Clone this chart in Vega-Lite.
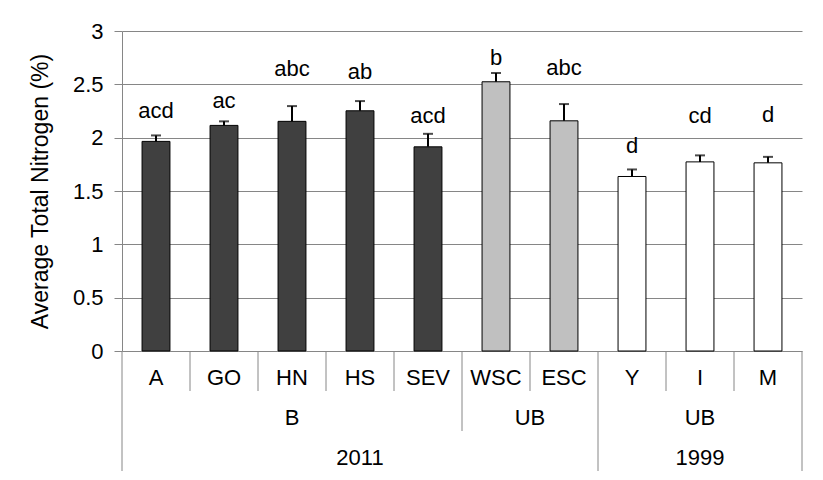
{
  "$schema": "https://vega.github.io/schema/vega-lite/v6.json",
  "padding": {"left": 29, "top": 20, "right": 10, "bottom": 5},
  "background": "white",
  "spacing": 0,
  "bounds": "flush",
  "config": {
    "font": "Liberation Sans",
    "view": {"stroke": null},
    "concat": {"spacing": 0}
  },
  "resolve": {"scale": {"x": "independent", "y": "independent"}},
  "datasets": {
    "bars": [
      {"site": "A", "group": "B 2011", "mean": 1.965, "upper": 2.021, "letters": "acd", "label_y": 2.18},
      {"site": "GO", "group": "B 2011", "mean": 2.115, "upper": 2.153, "letters": "ac", "label_y": 2.28},
      {"site": "HN", "group": "B 2011", "mean": 2.153, "upper": 2.296, "letters": "abc", "label_y": 2.58},
      {"site": "HS", "group": "B 2011", "mean": 2.252, "upper": 2.343, "letters": "ab", "label_y": 2.55},
      {"site": "SEV", "group": "B 2011", "mean": 1.914, "upper": 2.036, "letters": "acd", "label_y": 2.14},
      {"site": "WSC", "group": "UB 2011", "mean": 2.524, "upper": 2.606, "letters": "b", "label_y": 2.68},
      {"site": "ESC", "group": "UB 2011", "mean": 2.158, "upper": 2.315, "letters": "abc", "label_y": 2.59},
      {"site": "Y", "group": "UB 1999", "mean": 1.636, "upper": 1.702, "letters": "d", "label_y": 1.855},
      {"site": "I", "group": "UB 1999", "mean": 1.773, "upper": 1.834, "letters": "cd", "label_y": 2.14},
      {"site": "M", "group": "UB 1999", "mean": 1.764, "upper": 1.82, "letters": "d", "label_y": 2.15}
    ],
    "levels": [
      {"label": "A", "site": "A", "row": 1, "edge": false},
      {"label": "GO", "site": "GO", "row": 1, "edge": false},
      {"label": "HN", "site": "HN", "row": 1, "edge": false},
      {"label": "HS", "site": "HS", "row": 1, "edge": false},
      {"label": "SEV", "site": "SEV", "row": 1, "edge": false},
      {"label": "WSC", "site": "WSC", "row": 1, "edge": false},
      {"label": "ESC", "site": "ESC", "row": 1, "edge": false},
      {"label": "Y", "site": "Y", "row": 1, "edge": false},
      {"label": "I", "site": "I", "row": 1, "edge": false},
      {"label": "M", "site": "M", "row": 1, "edge": false},
      {"label": "B", "site": "HN", "row": 2, "edge": false},
      {"label": "UB", "site": "ESC", "row": 2, "edge": true},
      {"label": "UB", "site": "I", "row": 2, "edge": false},
      {"label": "2011", "site": "HS", "row": 3, "edge": false},
      {"label": "1999", "site": "I", "row": 3, "edge": false}
    ],
    "separators": [
      {"site": "A", "depth": 3, "side": "start"},
      {"site": "GO", "depth": 1, "side": "start"},
      {"site": "HN", "depth": 1, "side": "start"},
      {"site": "HS", "depth": 1, "side": "start"},
      {"site": "SEV", "depth": 1, "side": "start"},
      {"site": "WSC", "depth": 2, "side": "start"},
      {"site": "ESC", "depth": 1, "side": "start"},
      {"site": "Y", "depth": 3, "side": "start"},
      {"site": "I", "depth": 1, "side": "start"},
      {"site": "M", "depth": 1, "side": "start"},
      {"site": "M", "depth": 3, "side": "end"}
    ]
  },
  "vconcat": [
    {
      "width": 680,
      "height": 320,
      "data": {"name": "bars"},
      "encoding": {
        "x": {
          "field": "site",
          "type": "nominal",
          "sort": null,
          "scale": {"paddingInner": 0.59, "paddingOuter": 0.295},
          "axis": null
        }
      },
      "layer": [
        {
          "mark": {"type": "bar", "stroke": "black", "strokeWidth": 1},
          "encoding": {
            "y": {
              "field": "mean",
              "type": "quantitative",
              "scale": {"domain": [0, 3], "nice": false},
              "axis": {
                "values": [0, 0.5, 1, 1.5, 2, 2.5, 3],
                "format": "~g",
                "grid": true,
                "gridColor": "#868686",
                "domainColor": "#868686",
                "tickColor": "#868686",
                "tickSize": 8,
                "labelFontSize": 22,
                "labelColor": "black",
                "labelPadding": 11,
                "title": "Average Total Nitrogen (%)",
                "titleFontSize": 23,
                "titleFontWeight": "normal",
                "titleColor": "black",
                "titlePadding": 20
              }
            },
            "fill": {
              "field": "group",
              "type": "nominal",
              "scale": {"domain": ["B 2011", "UB 2011", "UB 1999"], "range": ["#404040", "#c0c0c0", "#ffffff"]},
              "legend": null
            }
          }
        },
        {
          "mark": {"type": "rule", "strokeWidth": 2, "color": "black"},
          "encoding": {
            "y": {"field": "mean", "type": "quantitative"},
            "y2": {"field": "upper"}
          }
        },
        {
          "mark": {"type": "tick", "thickness": 2, "size": 10, "color": "black"},
          "encoding": {
            "y": {"field": "upper", "type": "quantitative"}
          }
        },
        {
          "mark": {"type": "text", "fontSize": 22, "baseline": "alphabetic", "color": "black"},
          "encoding": {
            "y": {"field": "label_y", "type": "quantitative"},
            "text": {"field": "letters"}
          }
        }
      ]
    },
    {
      "width": 680,
      "height": 120,
      "resolve": {"scale": {"y": "independent"}},
      "layer": [
        {
          "data": {"name": "separators"},
          "transform": [{"filter": "datum.side == 'start'"}],
          "mark": {"type": "rule", "color": "#868686", "strokeWidth": 1},
          "encoding": {
            "x": {
              "field": "site",
              "type": "nominal",
              "bandPosition": 0,
              "scale": {"domain": ["A", "GO", "HN", "HS", "SEV", "WSC", "ESC", "Y", "I", "M"], "paddingInner": 0, "paddingOuter": 0},
              "axis": null
            },
            "y": {"field": "depth", "type": "quantitative", "scale": {"domain": [0, 3], "reverse": true, "nice": false}, "axis": null},
            "y2": {"datum": 0}
          }
        },
        {
          "data": {"name": "separators"},
          "transform": [{"filter": "datum.side == 'end'"}],
          "mark": {"type": "rule", "color": "#868686", "strokeWidth": 1},
          "encoding": {
            "x": {"field": "site", "type": "nominal", "bandPosition": 1, "axis": null},
            "y": {"field": "depth", "type": "quantitative", "axis": null},
            "y2": {"datum": 0}
          }
        },
        {
          "data": {"name": "levels"},
          "transform": [{"filter": "!datum.edge"}],
          "mark": {"type": "text", "fontSize": 22, "dy": 7, "color": "black"},
          "encoding": {
            "x": {"field": "site", "type": "nominal", "axis": null},
            "y": {"field": "row", "type": "ordinal", "scale": {"domain": [1, 2, 3]}, "axis": null},
            "text": {"field": "label"}
          }
        },
        {
          "data": {"name": "levels"},
          "transform": [{"filter": "datum.edge"}],
          "mark": {"type": "text", "fontSize": 22, "dy": 7, "color": "black"},
          "encoding": {
            "x": {"field": "site", "type": "nominal", "bandPosition": 0, "axis": null},
            "y": {"field": "row", "type": "ordinal", "axis": null},
            "text": {"field": "label"}
          }
        }
      ]
    }
  ]
}
